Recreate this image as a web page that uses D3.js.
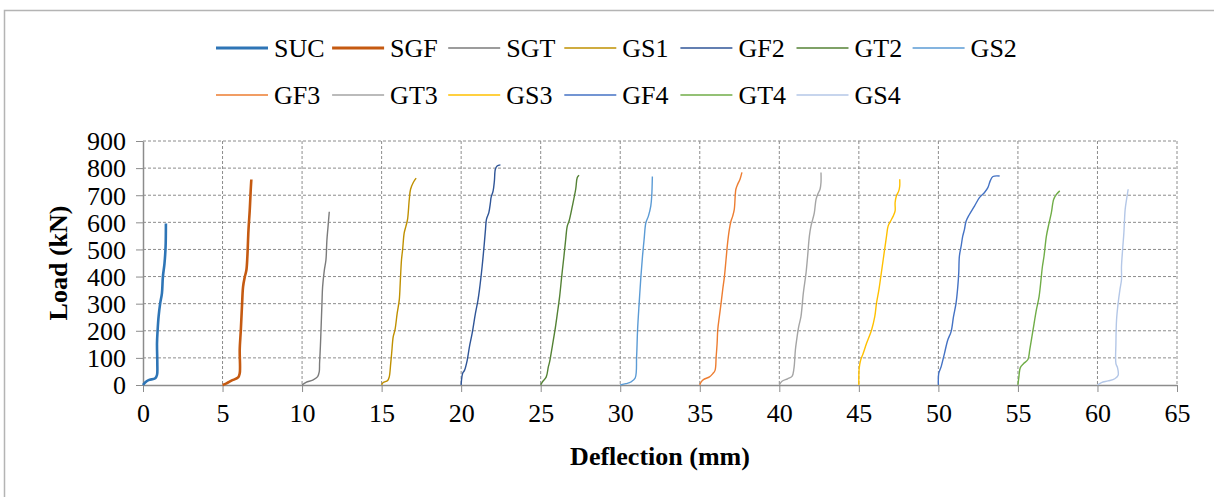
<!DOCTYPE html>
<html>
<head>
<meta charset="utf-8">
<script src="https://cdn.jsdelivr.net/npm/d3@7"></script>
<style>
  html, body { margin: 0; padding: 0; background: #fff; }
  svg { display: block; font-family: "Liberation Serif", "Times New Roman", serif; }
</style>
</head>
<body>
<div id="chart"></div>
<script>
// series names, in legend order
const names = ["SUC", "SGF", "SGT", "GS1", "GF2", "GT2", "GS2", "GF3", "GT3", "GS3", "GF4", "GT4", "GS4"]
const colors = ["#2E75B6", "#C55A11", "#7B7B7B", "#BF9000", "#2F5597", "#548235", "#5B9BD5",
  "#ED7D31", "#A5A5A5", "#FFC000", "#4472C4", "#70AD47", "#B4C7E7"]

// [deflection (mm), load (kN)]
const SUC = [[0, 0], [0.15, 10], [0.35, 18], [0.77, 25], [0.88, 37], [0.9, 80], [0.88, 153], [0.92, 203],
  [0.98, 252], [1.08, 301], [1.19, 338], [1.25, 399], [1.35, 448], [1.42, 510], [1.44, 596]]
const SGF = [[5, 0], [5.25, 6], [5.56, 16], [5.98, 28], [6.08, 43], [6.1, 65], [6.08, 129], [6.15, 203],
  [6.23, 301], [6.29, 362], [6.4, 399], [6.5, 424], [6.56, 473], [6.63, 571], [6.71, 645], [6.77, 718], [6.81, 758]]
const SGT = [[10, 0], [10.25, 10], [10.67, 18], [10.98, 31], [11.08, 49], [11.1, 80], [11.15, 141], [11.19, 203],
  [11.25, 301], [11.29, 362], [11.4, 424], [11.5, 461], [11.56, 534], [11.63, 583], [11.71, 639]]
const GS1 = [[15, 0], [15.1, 9], [15.38, 17], [15.48, 30], [15.57, 79], [15.63, 116], [15.73, 178], [15.84, 203],
  [15.98, 265], [16.11, 314], [16.17, 376], [16.25, 462], [16.32, 499], [16.42, 561], [16.53, 586], [16.63, 611],
  [16.74, 685], [16.82, 722], [16.99, 747], [17.17, 763]]
const GF2 = [[20, 0], [20.02, 17], [20.1, 44], [20.21, 54], [20.38, 91], [20.52, 141], [20.69, 190], [20.9, 265],
  [21.06, 314], [21.15, 351], [21.32, 438], [21.44, 512], [21.53, 574], [21.59, 611], [21.74, 636], [21.84, 673],
  [21.88, 691], [22.01, 716], [22.09, 753], [22.15, 796], [22.26, 808], [22.47, 812]]
const GT2 = [[25, 0], [25.1, 11], [25.35, 30], [25.48, 67], [25.56, 85], [25.69, 129], [25.9, 203], [26.05, 265],
  [26.19, 326], [26.32, 400], [26.46, 474], [26.57, 536], [26.67, 586], [26.78, 604], [26.99, 660], [27.2, 722],
  [27.3, 765], [27.41, 774]]
const GS2 = [[30, 0], [30.36, 5], [30.67, 11], [30.94, 26], [31.03, 104], [31.09, 203], [31.19, 302], [31.3, 400],
  [31.4, 475], [31.5, 536], [31.61, 598], [31.77, 623], [31.92, 660], [31.98, 697], [32.02, 769]]
const GF3 = [[35, 0], [35.08, 11], [35.23, 20], [35.61, 30], [35.82, 42], [35.96, 54], [36.03, 104], [36.09, 153],
  [36.13, 203], [36.23, 252], [36.34, 302], [36.44, 351], [36.55, 400], [36.65, 462], [36.75, 524], [36.86, 574],
  [36.96, 604], [37.07, 623], [37.17, 648], [37.27, 722], [37.38, 740], [37.53, 759], [37.65, 784]]
const GT3 = [[40, 0], [40.17, 14], [40.52, 23], [40.8, 32], [40.92, 61], [41.01, 129], [41.09, 166], [41.22, 215],
  [41.36, 252], [41.51, 339], [41.68, 413], [41.78, 475], [41.89, 549], [41.99, 586], [42.1, 611], [42.2, 635],
  [42.31, 685], [42.41, 703], [42.56, 722], [42.62, 747], [42.62, 784]]
const GS3 = [[45, 0], [45, 30], [45.02, 61], [45.11, 91], [45.27, 116], [45.48, 153], [45.8, 203], [46.0, 252],
  [46.11, 302], [46.26, 351], [46.38, 400], [46.53, 462], [46.74, 549], [46.84, 586], [46.99, 604], [47.16, 623],
  [47.28, 642], [47.28, 673], [47.36, 697], [47.51, 716], [47.57, 734], [47.57, 759]]
const GF4 = [[50, 0], [50.02, 42], [50.17, 67], [50.38, 116], [50.59, 166], [50.8, 197], [50.95, 252], [51.11, 302],
  [51.22, 363], [51.28, 413], [51.32, 475], [51.43, 512], [51.53, 549], [51.64, 574], [51.74, 604], [51.95, 629],
  [52.27, 660], [52.58, 691], [52.9, 710], [53.11, 728], [53.26, 753], [53.43, 769], [53.85, 771]]
const GT4 = [[55, 0], [55.06, 30], [55.15, 64], [55.36, 79], [55.63, 94], [55.74, 129], [55.95, 203], [56.16, 277],
  [56.33, 326], [56.54, 437], [56.64, 475], [56.79, 549], [56.96, 598], [57.1, 635], [57.25, 685], [57.42, 703],
  [57.63, 716]]
const GS4 = [[60, 0], [60.25, 9], [60.67, 15], [61.09, 23], [61.3, 36], [61.26, 64], [61.16, 79], [61.16, 153],
  [61.2, 240], [61.3, 302], [61.41, 351], [61.51, 388], [61.51, 437], [61.58, 499], [61.66, 561], [61.74, 647],
  [61.83, 685], [61.93, 722]]

const seriesData = [SUC, SGF, SGT, GS1, GF2, GT2, GS2, GF3, GT3, GS3, GF4, GT4, GS4]
const xTicks = d3.range(0, 66, 5)
const yTicks = d3.range(0, 901, 100)

const width = 1214, height = 497
const plot = { left: 143, right: 1177, top: 141, bottom: 385 }

const svg = d3.select("#chart").append("svg")
  .attr("width", width)
  .attr("height", height)

// chart area border (runs off the right and bottom edges)
svg.append("rect")
  .attr("x", 4.5).attr("y", 10.5)
  .attr("width", 1230).attr("height", 510)
  .attr("fill", "none")
  .attr("stroke", "#b4b4b4")
  .attr("stroke-width", 1.5)

const x = d3.scaleLinear().domain([0, 65]).range([plot.left, plot.right])
const y = d3.scaleLinear().domain([0, 900]).range([plot.bottom, plot.top])

// dashed gridlines
const grid = svg.append("g").attr("stroke", "#8c8c8c").attr("stroke-dasharray", "3,2").attr("stroke-width", 1)
grid.selectAll(".gx").data(xTicks.slice(1)).join("line")
  .attr("x1", d => x(d)).attr("x2", d => x(d))
  .attr("y1", plot.top).attr("y2", plot.bottom)
grid.selectAll(".gy").data(yTicks.slice(1)).join("line")
  .attr("x1", plot.left).attr("x2", plot.right)
  .attr("y1", d => y(d)).attr("y2", d => y(d))

// axes
const gx = svg.append("g")
  .attr("transform", "translate(0," + plot.bottom + ")")
  .call(d3.axisBottom(x).tickValues(xTicks).tickSize(7).tickPadding(12).tickSizeOuter(0))
const gy = svg.append("g")
  .attr("transform", "translate(" + plot.left + ",0)")
  .call(d3.axisLeft(y).tickValues(yTicks).tickSize(7).tickPadding(10).tickSizeOuter(0))

;[gx, gy].forEach(g => {
  g.select(".domain").attr("stroke", "#8c8c8c").attr("stroke-width", 1.5)
  g.selectAll(".tick line").attr("stroke", "#8c8c8c").attr("stroke-width", 1)
  g.selectAll(".tick text")
    .attr("fill", "#000")
    .style("font-family", "'Liberation Serif', serif")
    .style("font-size", "26px")
})
gy.selectAll(".tick text").attr("dy", "0.34em")

// curves
const line = d3.line()
  .x(d => x(d[0]))
  .y(d => y(d[1]))
  .curve(d3.curveCatmullRom.alpha(0.5))

svg.append("g").selectAll("path")
  .data(seriesData)
  .join("path")
  .attr("d", line)
  .attr("fill", "none")
  .attr("stroke", (_, i) => colors[i])
  .attr("stroke-width", (_, i) => (i < 2 ? 2.6 : 1.4))
  .attr("stroke-linejoin", "round")

// axis titles
svg.append("text")
  .attr("x", (plot.left + plot.right) / 2)
  .attr("y", 465)
  .attr("text-anchor", "middle")
  .style("font-size", "26px")
  .style("font-weight", "bold")
  .text("Deflection (mm)")

svg.append("text")
  .attr("transform", "translate(67," + (plot.top + plot.bottom) / 2 + ") rotate(-90)")
  .attr("text-anchor", "middle")
  .style("font-size", "26px")
  .style("font-weight", "bold")
  .text("Load (kN)")

// legend, two rows of seven
const legend = svg.append("g").selectAll("g")
  .data(names)
  .join("g")
  .attr("transform", (_, i) => "translate(" + (216 + (i % 7) * 116.1) + "," + (i < 7 ? 48 : 95) + ")")

legend.append("line")
  .attr("x1", 0).attr("x2", 52)
  .attr("stroke", (_, i) => colors[i])
  .attr("stroke-width", (_, i) => (i < 2 ? 3 : 1.6))

legend.append("text")
  .attr("x", 58)
  .attr("dy", "0.35em")
  .style("font-size", "26px")
  .text(d => d)
</script>
</body>
</html>
